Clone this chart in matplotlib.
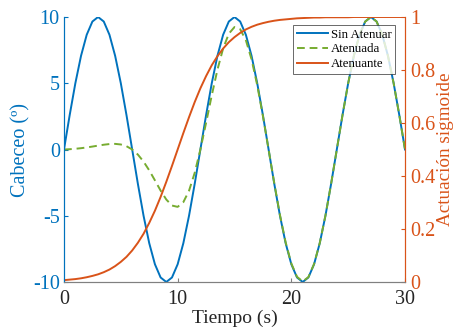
import matplotlib
matplotlib.use("Agg")
import matplotlib.pyplot as plt

plt.rcParams['font.family'] = ['Liberation Serif', 'DejaVu Serif']
plt.rcParams['axes.unicode_minus'] = False

tiempo = [i * 0.5 for i in range(61)]

sin_atenuar = [
    0.0, 2.588, 5.0, 7.071, 8.660, 9.659, 10.0, 9.659, 8.660, 7.071, 5.0, 2.588,
    0.0, -2.588, -5.0, -7.071, -8.660, -9.659, -10.0, -9.659, -8.660, -7.071, -5.0, -2.588,
    0.0, 2.588, 5.0, 7.071, 8.660, 9.659, 10.0, 9.659, 8.660, 7.071, 5.0, 2.588,
    0.0, -2.588, -5.0, -7.071, -8.660, -9.659, -10.0, -9.659, -8.660, -7.071, -5.0, -2.588,
    0.0, 2.588, 5.0, 7.071, 8.660, 9.659, 10.0, 9.659, 8.660, 7.071, 5.0, 2.588,
    0.0,
]

atenuada = [
    0.0, 0.022, 0.055, 0.099, 0.156, 0.222, 0.293, 0.361, 0.411, 0.425, 0.379, 0.247,
    0.0, -0.383, -0.912, -1.575, -2.329, -3.099, -3.775, -4.229, -4.330, -3.975, -3.112, -1.758,
    0.0, 2.012, 4.088, 6.024, 7.628, 8.738, 9.241, 9.079, 8.249, 6.807, 4.854, 2.529,
    0.0, -2.552, -4.945, -7.010, -8.602, -9.609, -9.959, -9.628, -8.639, -7.057, -4.993, -2.585,
    0.0, 2.586, 4.997, 7.068, 8.657, 9.657, 9.998, 9.658, 8.659, 7.070, 5.000, 2.588,
    0.0,
]

atenuante = [
    0.007, 0.009, 0.011, 0.014, 0.018, 0.023, 0.029, 0.037, 0.047, 0.060, 0.076, 0.095,
    0.119, 0.148, 0.182, 0.223, 0.269, 0.321, 0.378, 0.438, 0.500, 0.562, 0.622, 0.679,
    0.731, 0.777, 0.818, 0.852, 0.881, 0.905, 0.924, 0.940, 0.953, 0.963, 0.971, 0.977,
    0.982, 0.986, 0.989, 0.991, 0.993, 0.995, 0.996, 0.997, 0.998, 0.998, 0.999, 0.999,
    0.999, 0.999, 0.999, 1.0, 1.0, 1.0, 1.0, 1.0, 1.0, 1.0, 1.0, 1.0,
    1.0,
]

left_ticks = [-10, -5, 0, 5, 10]
right_ticks = [0, 0.2, 0.4, 0.6, 0.8, 1]
right_labels = ["0", "0.2", "0.4", "0.6", "0.8", "1"]
x_ticks = [0, 10, 20, 30]

BLUE = '#0072BD'
GREEN = '#77AC30'
ORANGE = '#D95319'
GRAY = '#808080'

fig = plt.figure(figsize=(4.58, 3.36), dpi=100)
ax = fig.add_axes([0.1397, 0.1607, 0.8843 - 0.1397, 0.9494 - 0.1607])
ax2 = ax.twinx()

l1, = ax.plot(tiempo, sin_atenuar, color=BLUE, lw=1.4, label='Sin Atenuar')
l2, = ax.plot(tiempo, atenuada, color=GREEN, lw=1.4, ls=(0, (4, 2.5)), label='Atenuada')
l3, = ax2.plot(tiempo, atenuante, color=ORANGE, lw=1.4, label='Atenuante')

ax.set_xlim(0, 30)
ax.set_ylim(-10, 10)
ax2.set_ylim(0, 1)

ax.set_xticks(x_ticks)
ax.set_yticks(left_ticks)
ax2.set_yticks(right_ticks)
ax2.set_yticklabels(right_labels)

for a in (ax, ax2):
    a.spines['top'].set_visible(False)
    a.tick_params(direction='in', labelsize=14.5, length=3, width=0.8, pad=3)
    a.spines['bottom'].set_color(GRAY)
    a.spines['left'].set_color(BLUE)
    a.spines['right'].set_color(ORANGE)

ax.tick_params(axis='y', colors=BLUE)
ax.tick_params(axis='x', colors=GRAY, labelcolor='#262626', pad=6)
ax2.tick_params(axis='y', colors=ORANGE, pad=4)

ax.set_xlabel('Tiempo (s)', fontsize=14, color='#262626', labelpad=0)
ax.set_ylabel('Cabeceo (º)', fontsize=14.5, color=BLUE, labelpad=2)
ax2.set_ylabel('Actuación sigmoide', fontsize=13.8, color=ORANGE, labelpad=1)

leg = ax2.legend(handles=[l1, l2, l3], loc='upper right', fontsize=9.3,
                 bbox_to_anchor=(0.972, 0.97), frameon=True, fancybox=False,
                 edgecolor='#262626', borderpad=0.3, labelspacing=0.2,
                 handlelength=2.4, handletextpad=0.25, borderaxespad=0.0)
leg.get_frame().set_linewidth(0.6)

fig.savefig('out.png', dpi=100)
